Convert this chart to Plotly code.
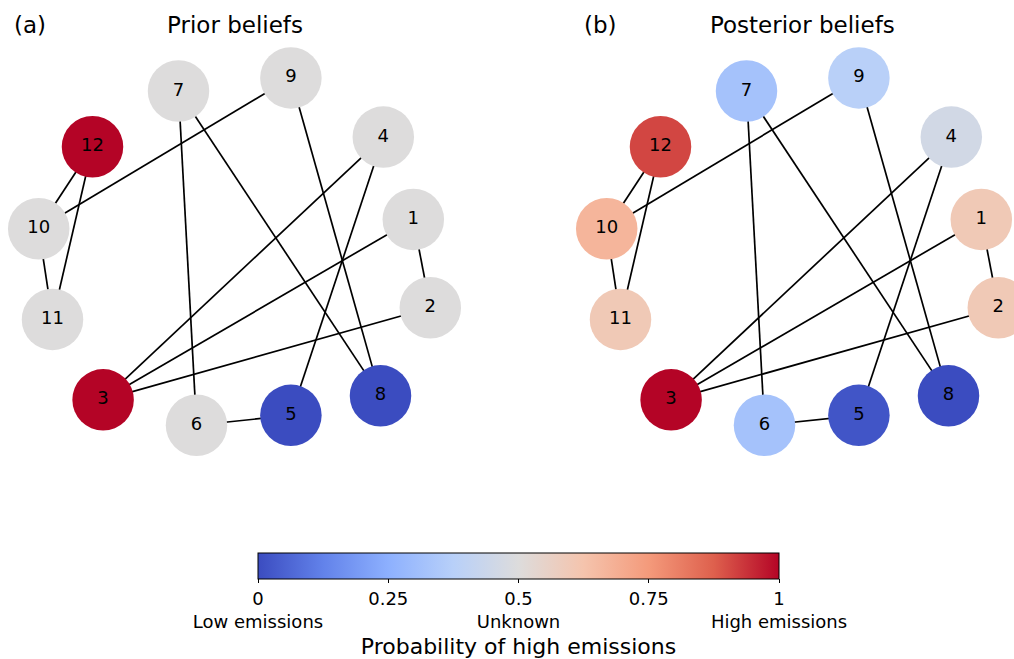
import plotly.graph_objects as go

# ---- data ----
nodes = [1, 2, 3, 4, 5, 6, 7, 8, 9, 10, 11, 12]
# network layout coordinates (unitless)
node_x = [0.894, 0.979, -0.657, 0.744, 0.282, -0.190, -0.280, 0.730, 0.282, -0.979, -0.910, -0.710]
node_y = [0.162, -0.283, -0.747, 0.577, -0.825, -0.875, 0.809, -0.727, 0.875, 0.115, -0.342, 0.528]
edges = [(10, 12), (12, 11), (10, 11), (10, 9), (7, 6), (7, 8), (9, 8),
         (4, 3), (4, 5), (1, 3), (1, 2), (2, 3), (6, 5)]
prior = [0.5, 0.5, 1.0, 0.5, 0.0, 0.5, 0.5, 0.0, 0.5, 0.5, 0.5, 1.0]
posterior = [0.60, 0.60, 1.0, 0.46, 0.02, 0.32, 0.32, 0.0, 0.38, 0.67, 0.60, 0.91]
panel_titles = ["Prior beliefs", "Posterior beliefs"]
panel_tags = ["(a)", "(b)"]
cb_tickvals = [0, 0.25, 0.5, 0.75, 1]
cb_ticktext = ["0<br>Low emissions", "0.25", "0.5<br>Unknown", "0.75", "1<br>High emissions"]
cb_title = "Probability of high emissions"

coolwarm = [
    [0.0, "#3b4cc0"], [0.125, "#6282ea"], [0.25, "#8db0fe"], [0.375, "#b8d0f9"],
    [0.5, "#dddcdc"], [0.625, "#f5c4ad"], [0.75, "#f49a7b"], [0.875, "#de604d"],
    [1.0, "#b40426"],
]

W, H = 1014, 659
FONT = "DejaVu Sans"
S = 200.0          # px per layout unit
CX, CY = 234.5, 253.5  # panel centre (px from panel left/top)
PANEL_TOP_H = 470
panels = [(0, 470), (568, W)]  # px extents of each panel

fig = go.Figure()
idx = {n: i for i, n in enumerate(nodes)}

for p, values in enumerate([prior, posterior]):
    xa = "x" if p == 0 else "x2"
    ya = "y" if p == 0 else "y2"
    ex, ey = [], []
    for a, b in edges:
        ex += [node_x[idx[a]], node_x[idx[b]], None]
        ey += [node_y[idx[a]], node_y[idx[b]], None]
    fig.add_trace(go.Scatter(x=ex, y=ey, mode="lines", xaxis=xa, yaxis=ya,
                             line=dict(color="black", width=1.7),
                             hoverinfo="skip", showlegend=False))
    marker = dict(size=61.5, color=values, colorscale=coolwarm, cmin=0, cmax=1,
                  line=dict(width=0))
    if p == 1:
        marker.update(showscale=True, colorbar=dict(
            orientation="h", x=518.5 / W, xanchor="center",
            y=1 - 557 / H, yanchor="top", yref="paper",
            lenmode="pixels", len=521, thicknessmode="pixels", thickness=26,
            xpad=0, ypad=0, outlinewidth=1, outlinecolor="black",
            tickvals=cb_tickvals, ticktext=cb_ticktext,
            ticks="outside", ticklen=4, tickwidth=1, tickcolor="black",
            tickfont=dict(family=FONT, size=18, color="black"),
            title=dict(text=cb_title, side="bottom",
                       font=dict(family=FONT, size=22, color="black")),
        ))
    fig.add_trace(go.Scatter(x=node_x, y=node_y, mode="markers+text", xaxis=xa, yaxis=ya,
                             text=[str(n) for n in nodes], textposition="middle center",
                             textfont=dict(family=FONT, size=18, color="black"),
                             marker=marker, hoverinfo="skip", showlegend=False,
                             cliponaxis=True))

# axes: linear mapping px = CX + S*x
for p, (x0, x1) in enumerate(panels):
    suffix = "" if p == 0 else "2"
    fig.update_layout(**{
        "xaxis" + suffix: dict(domain=[x0 / W, x1 / W],
                               range=[(0 - CX) / S, (x1 - x0 - CX) / S],
                               visible=False, fixedrange=True),
        "yaxis" + suffix: dict(domain=[1 - PANEL_TOP_H / H, 1],
                               range=[(CY - PANEL_TOP_H) / S, CY / S],
                               visible=False, fixedrange=True),
    })

annotations = []
title_cx = [234.7, 802.3]
tag_x = [11.5, 581.5]
for p in range(2):
    annotations.append(dict(text=panel_titles[p], x=title_cx[p] / W, y=1 - 25.5 / H,
                            xref="paper", yref="paper", xanchor="center", yanchor="middle",
                            showarrow=False, font=dict(family=FONT, size=23, color="black")))
    annotations.append(dict(text=panel_tags[p], x=tag_x[p] / W, y=1 - 25.5 / H,
                            xref="paper", yref="paper", xanchor="left", yanchor="middle",
                            showarrow=False, font=dict(family=FONT, size=23, color="black")))

fig.update_layout(width=W, height=H, margin=dict(l=0, r=0, t=0, b=0),
                  paper_bgcolor="white", plot_bgcolor="white",
                  annotations=annotations, font=dict(family=FONT))

fig.write_html("out.html", config={"displayModeBar": False, "staticPlot": True})

# remove the browser's default page margin so the figure fills the window exactly
with open("out.html", encoding="utf-8") as f:
    html = f.read()
html = html.replace("<head>", "<head><style>html,body{margin:0;padding:0;overflow:hidden;}</style>", 1)
with open("out.html", "w", encoding="utf-8") as f:
    f.write(html)
